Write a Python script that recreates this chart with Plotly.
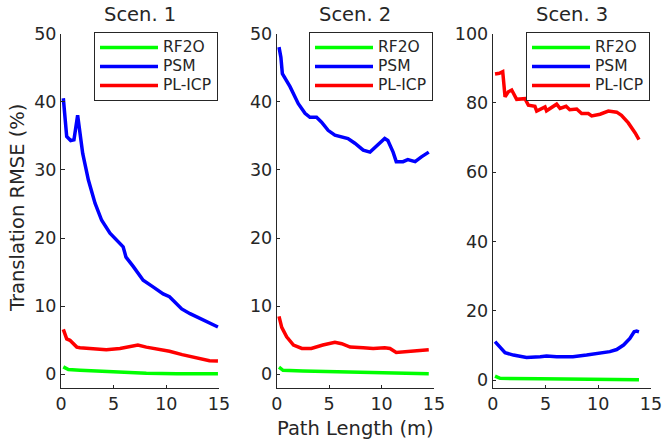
import plotly.graph_objects as go

# ---------------- data ----------------
s1_rf2o_x = [0.22, 0.7, 1.8, 5.0, 8.1, 11.0, 14.9]
s1_rf2o_y = [1.1, 0.7, 0.6, 0.35, 0.15, 0.1, 0.1]
s1_psm_x = [0.22, 0.54, 0.92, 1.23, 1.58, 2.06, 2.6, 3.23, 3.86, 4.65, 5.9, 6.17,
            6.87, 7.8, 8.77, 9.7, 10.3, 11.46, 12.25, 13.2, 14.1, 14.9]
s1_psm_y = [40.5, 34.9, 34.3, 34.4, 38.0, 32.4, 28.5, 25.1, 22.6, 20.7, 18.7, 17.2,
            15.8, 13.8, 12.8, 11.8, 11.4, 9.6, 8.9, 8.2, 7.4, 6.95]
s1_plicp_x = [0.22, 0.54, 0.85, 1.5, 1.8, 3.1, 4.3, 5.6, 6.2, 7.3, 8.1, 9.4, 10.3,
              11.5, 12.9, 14.1, 14.9]
s1_plicp_y = [6.6, 5.2, 5.0, 4.0, 3.9, 3.7, 3.6, 3.8, 4.0, 4.3, 4.0, 3.6, 3.4,
              2.9, 2.4, 2.0, 1.95]

s2_rf2o_x = [0.22, 0.6, 2.5, 7.2, 14.5]
s2_rf2o_y = [1.05, 0.6, 0.5, 0.35, 0.1]
s2_psm_x = [0.22, 0.4, 0.54, 1.27, 2.06, 2.7, 3.17, 3.8, 4.28, 4.9, 5.55, 6.2, 6.8,
            7.45, 8.25, 8.9, 9.5, 10.3, 10.6, 11.1, 11.4, 12.05, 12.5, 13.2, 13.8, 14.5]
s2_psm_y = [48.0, 46.5, 44.1, 42.2, 39.7, 38.3, 37.7, 37.7, 37.0, 35.8, 35.1, 34.8, 34.6,
            33.9, 32.9, 32.6, 33.4, 34.6, 34.3, 32.6, 31.2, 31.2, 31.5, 31.2, 31.9, 32.6]
s2_plicp_x = [0.22, 0.48, 0.95, 1.6, 2.4, 3.3, 4.4, 5.55, 6.2, 7.0, 8.25, 9.2, 10.3,
              10.8, 11.4, 12.4, 14.5]
s2_plicp_y = [8.5, 6.9, 5.5, 4.3, 3.8, 3.8, 4.3, 4.7, 4.5, 4.0, 3.9, 3.8, 3.9,
              3.8, 3.2, 3.3, 3.6]

s3_rf2o_x = [0.22, 0.7, 4.5, 9.0, 13.86]
s3_rf2o_y = [1.15, 0.5, 0.35, 0.3, 0.1]
s3_psm_x = [0.22, 0.7, 1.17, 1.96, 3.2, 4.5, 5.1, 6.06, 7.6, 8.9, 10.2, 11.1, 11.75,
            12.4, 13.0, 13.4, 13.64, 13.86]
s3_psm_y = [11.1, 9.6, 7.9, 7.2, 6.5, 6.7, 6.9, 6.7, 6.7, 7.2, 7.7, 8.2, 8.8,
            10.1, 12.0, 13.9, 14.1, 13.9]
s3_plicp_x = [0.22, 0.63, 0.95, 1.17, 1.48, 1.8, 2.27, 3.06, 3.38, 4.0, 4.17, 4.96, 5.1,
              6.06, 6.38, 6.95, 7.3, 7.96, 8.43, 9.06, 9.38, 10.17, 10.96, 11.75, 12.2,
              12.85, 13.5, 13.86]
s3_plicp_y = [88.3, 88.5, 89.0, 81.7, 83.2, 83.7, 81.0, 81.2, 79.3, 79.0, 77.6, 78.8, 77.7,
              79.6, 78.4, 79.0, 78.0, 78.2, 76.9, 76.9, 76.2, 76.7, 77.6, 77.3, 76.4,
              74.2, 71.3, 69.4]

series_names = ["RF2O", "PSM", "PL-ICP"]
titles = ["Scen. 1", "Scen. 2", "Scen. 3"]
x_ticks = [0, 5, 10, 15]
y_ticks_12 = [0, 10, 20, 30, 40, 50]
y_ticks_3 = [0, 20, 40, 60, 80, 100]

# ---------------- figure ----------------
W, H = 662, 440
FONT = "DejaVu Sans"
TXT = "#262626"
colors = ["#00ff00", "#0000ff", "#ff0000"]

scen = [
    [(s1_rf2o_x, s1_rf2o_y), (s1_psm_x, s1_psm_y), (s1_plicp_x, s1_plicp_y)],
    [(s2_rf2o_x, s2_rf2o_y), (s2_psm_x, s2_psm_y), (s2_plicp_x, s2_plicp_y)],
    [(s3_rf2o_x, s3_rf2o_y), (s3_psm_x, s3_psm_y), (s3_plicp_x, s3_plicp_y)],
]

xdoms = [(61, 219), (276.7, 434), (492.7, 651)]
ytop, ybot = 33.5, 388
ydom = [(H - ybot) / H, (H - ytop) / H]
yranges = [[-2, 50], [-2, 50], [-2.3, 100]]
yticks = [y_ticks_12, y_ticks_12, y_ticks_3]

fig = go.Figure()
for i, data in enumerate(scen):
    sfx = "" if i == 0 else str(i + 1)
    for j, (xs, ys) in enumerate(data):
        fig.add_trace(go.Scatter(
            x=xs, y=ys, mode="lines",
            name="<span style='font-size:15.5px'>" + series_names[j] + "</span>",
            line=dict(color=colors[j], width=3.5),
            xaxis="x" + sfx, yaxis="y" + sfx,
            legend="legend" + sfx,
        ))

layout = dict(
    width=W, height=H,
    margin=dict(l=0, r=0, t=0, b=0, autoexpand=False),
    paper_bgcolor="white", plot_bgcolor="white",
    font=dict(family=FONT, color=TXT, size=17.5),
    showlegend=True,
)
axis_common = dict(
    showgrid=False, zeroline=False, showline=True, linecolor=TXT, linewidth=1,
    ticks="inside", ticklen=3.5, tickcolor=TXT, tickwidth=1, automargin=False,
    ticklabeloverflow="allow",
    tickfont=dict(family=FONT, size=17.5, color=TXT), mirror=False,
)
annotations = []
for i in range(3):
    sfx = "" if i == 0 else str(i + 1)
    x0, x1 = xdoms[i]
    layout["xaxis" + sfx] = dict(
        axis_common, domain=[x0 / W, x1 / W], range=[0, 15],
        tickvals=x_ticks, anchor="y" + sfx,
    )
    layout["yaxis" + sfx] = dict(
        axis_common, domain=ydom, range=yranges[i],
        tickvals=yticks[i], anchor="x" + sfx,
    )
    layout["legend" + sfx] = dict(
        x=(x1 - 1) / W, xanchor="right", y=(H - 32) / H, yanchor="top",
        bgcolor="white", bordercolor=TXT, borderwidth=1,
        font=dict(family=FONT, size=12.3, color=TXT),
        itemwidth=58, tracegroupgap=0,
    )
    annotations.append(dict(
        text=titles[i], x=(x0 + x1) / 2 / W, y=(H - 14) / H,
        xref="paper", yref="paper", xanchor="center", yanchor="middle",
        showarrow=False, font=dict(family=FONT, size=19.5, color=TXT),
    ))

annotations.append(dict(
    text="Path Length (m)", x=(276.7 + 434) / 2 / W, y=(H - 428) / H,
    xref="paper", yref="paper", xanchor="center", yanchor="middle",
    showarrow=False, font=dict(family=FONT, size=19.5, color=TXT),
))
annotations.append(dict(
    text="Translation RMSE (%)", x=17 / W, y=(H - 208) / H, textangle=-90,
    xref="paper", yref="paper", xanchor="center", yanchor="middle",
    showarrow=False, font=dict(family=FONT, size=19.5, color=TXT),
))
layout["annotations"] = annotations

fig.update_layout(**layout)
fig.write_html("out.html", config={"displayModeBar": False},
               post_script="document.body.style.margin='0px';")
